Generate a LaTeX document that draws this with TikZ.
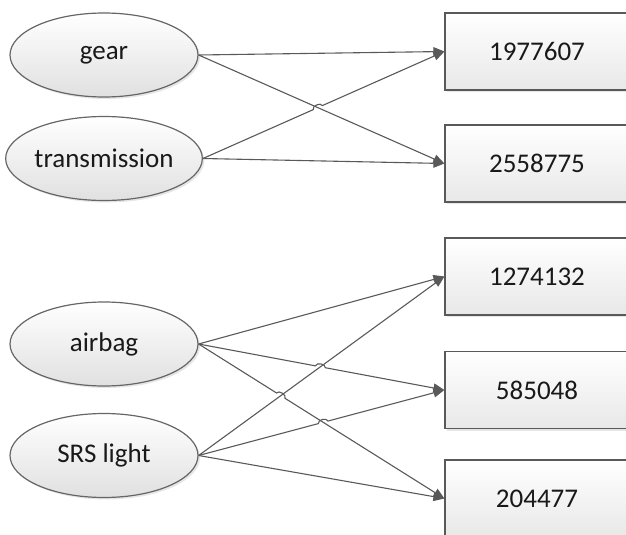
\documentclass[tikz,border=0pt]{standalone}
\usepackage{fontspec}
\setmainfont{Carlito}
\usetikzlibrary{arrows.meta, calc, shadows, shapes.geometric}

\tikzset{
  word/.style={ellipse, draw=black!60, line width=0.6pt, top color=white, bottom color=black!12,
    minimum width=94pt, minimum height=42pt, inner sep=0pt,
    drop shadow={opacity=0.2, shadow xshift=1pt, shadow yshift=-1pt}},
  code/.style={rectangle, draw=black!65, line width=0.6pt, top color=white, bottom color=black!9,
    minimum width=92pt, minimum height=38.5pt, inner sep=0pt,
    drop shadow={opacity=0.2, shadow xshift=1pt, shadow yshift=-1pt}},
  link/.style={draw=black!65, line width=0.55pt, -{Triangle[length=5.5pt, width=4.5pt]}}
}

\begin{document}
\begin{tikzpicture}[x=0.5pt, y=-0.5pt, every node/.style={font=\fontsize{13.5}{16}\selectfont, text=black!90}]

\useasboundingbox (0,0) rectangle (626,535);

% Keywords (ellipses)
\node[word] (w1) at (104,55) {gear};
\node[word] (w2) at (104,158.5) {transmission};
\node[word] (w3) at (104,344) {airbag};
\node[word] (w4) at (104,455.5) {SRS light};

% Codes (boxes)
\node[code] (p1) at (537,51.5) {1977607};
\node[code] (p2) at (537,163.5) {2558775};
\node[code] (p3) at (537,276.5) {1274132};
\node[code] (p4) at (537,390) {585048};
\node[code] (p5) at (537,498.5) {204477};

% Crossing points
\coordinate (h1) at (intersection of w2.east--p1.west and w1.east--p2.west);
\coordinate (h2) at (intersection of w3.east--p4.west and w4.east--p3.west);
\coordinate (h3) at (intersection of w3.east--p5.west and w4.east--p3.west);
\coordinate (h4) at (intersection of w4.east--p4.west and w3.east--p5.west);

% Connections (upper group)
\draw[link] (w1.east) -- (p1.west);
\draw[link] (w1.east) -- (p2.west);
\draw[link] (w2.east) -- ($(h1)!2.5pt!(w2.east)$) to[bend left=90] ($(h1)!2.5pt!(p1.west)$) -- (p1.west);
\draw[link] (w2.east) -- (p2.west);

% Connections (lower group)
\draw[link] (w3.east) -- (p3.west);
\draw[link] (w3.east) -- ($(h2)!2.5pt!(w3.east)$) to[bend left=90] ($(h2)!2.5pt!(p4.west)$) -- (p4.west);
\draw[link] (w3.east) -- ($(h3)!2.5pt!(w3.east)$) to[bend left=90] ($(h3)!2.5pt!(p5.west)$) -- (p5.west);

\draw[link] (w4.east) -- (p3.west);
\draw[link] (w4.east) -- ($(h4)!2.5pt!(w4.east)$) to[bend left=90] ($(h4)!2.5pt!(p4.west)$) -- (p4.west);
\draw[link] (w4.east) -- (p5.west);

\end{tikzpicture}
\end{document}
